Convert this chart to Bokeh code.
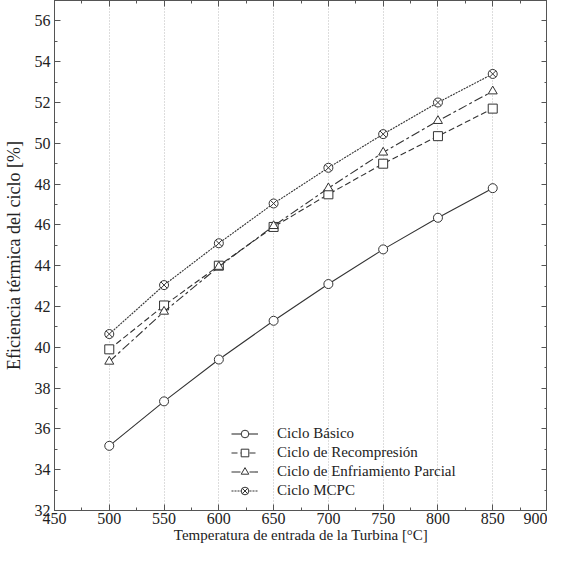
from bokeh.plotting import figure
from bokeh.models import (LinearAxis, SingleIntervalTicker, Range1d, Legend,
                          LegendItem, CustomJSTickFormatter)
from bokeh.embed import file_html
from bokeh.resources import INLINE

temps = [500, 550, 600, 650, 700, 750, 800, 850]
basico = [35.17, 37.35, 39.4, 41.3, 43.1, 44.8, 46.35, 47.8]
recompresion = [39.9, 42.05, 44.0, 45.9, 47.5, 49.0, 50.35, 51.7]
enfriamiento = [39.3, 41.75, 43.95, 45.95, 47.8, 49.55, 51.1, 52.55]
mcpc = [40.65, 43.05, 45.1, 47.05, 48.8, 50.45, 52.0, 53.4]

labels = ["Ciclo Básico", "Ciclo de Recompresión",
          "Ciclo de Enfriamiento Parcial", "Ciclo MCPC"]

FONT = "Liberation Serif"
AX = "#555555"
LC = "#333333"
TXT = "#222222"

p = figure(width=547, height=546, output_backend="svg",
           toolbar_location=None,
           x_range=Range1d(450, 900), y_range=Range1d(32, 57),
           min_border_left=46, min_border_right=0, min_border_top=0,
           min_border_bottom=36)
p.outline_line_color = AX
p.background_fill_color = "white"

def style_axis(ax, labels_on):
    ax.axis_line_color = AX
    ax.major_tick_line_color = AX
    ax.minor_tick_line_color = AX
    ax.major_tick_in = 6
    ax.major_tick_out = 0
    ax.minor_tick_in = 3
    ax.minor_tick_out = 0
    if labels_on:
        ax.major_label_text_font = FONT
        ax.major_label_text_font_size = "16px"
        ax.major_label_text_color = TXT
        ax.axis_label_text_font = FONT
        ax.axis_label_text_font_style = "normal"
        ax.axis_label_text_color = TXT
    else:
        ax.formatter = CustomJSTickFormatter(code="return ''")
        ax.major_label_text_font_size = "1px"
        ax.major_label_standoff = 0
        ax.axis_label = None

p.xaxis.ticker = SingleIntervalTicker(interval=50, num_minor_ticks=2)
p.yaxis.ticker = SingleIntervalTicker(interval=2, num_minor_ticks=2)
p.xaxis.axis_label = "Temperatura de entrada de la Turbina [°C]"
p.yaxis.axis_label = "Eficiencia térmica del ciclo [%]"
style_axis(p.xaxis[0], True)
style_axis(p.yaxis[0], True)
p.xaxis.major_label_standoff = 2
p.xaxis.axis_label_standoff = 0
p.xaxis.axis_label_text_font_size = "15px"
p.yaxis.major_label_standoff = 4
p.yaxis.axis_label_standoff = 8
p.yaxis.axis_label_text_font_size = "18px"

top = LinearAxis(ticker=SingleIntervalTicker(interval=50, num_minor_ticks=2))
right = LinearAxis(ticker=SingleIntervalTicker(interval=2, num_minor_ticks=2))
style_axis(top, False)
style_axis(right, False)
p.add_layout(top, "above")
p.add_layout(right, "right")

p.xgrid.grid_line_color = "#bbbbbb"
p.xgrid.grid_line_dash = "1 2"
p.xgrid.grid_line_width = 1
p.ygrid.visible = False

series = [
    (basico, "solid", "circle"),
    (recompresion, "6 3", "square"),
    (enfriamiento, "9 3 3 3", "triangle"),
    (mcpc, "2 1", "circle_x"),
]

items = []
for (vals, dash, marker), lab in zip(series, labels):
    l = p.line(temps, vals, line_color=LC, line_width=1.1, line_dash=dash)
    m = p.scatter(temps, vals, marker=marker, size=9, line_color=LC,
                  fill_color="white", line_width=1)
    items.append(LegendItem(label=lab, renderers=[l, m]))

legend = Legend(items=items, location=(177, 10), orientation="vertical")
legend.label_text_font = FONT
legend.label_text_font_size = "15px"
legend.label_text_color = TXT
legend.border_line_color = None
legend.background_fill_alpha = 0
legend.glyph_width = 27
legend.glyph_height = 19
legend.label_height = 19
legend.label_standoff = 19
legend.spacing = 0
legend.padding = 0
legend.margin = 0
p.add_layout(legend, "center")

open("out.html", "w").write(file_html(p, INLINE))
